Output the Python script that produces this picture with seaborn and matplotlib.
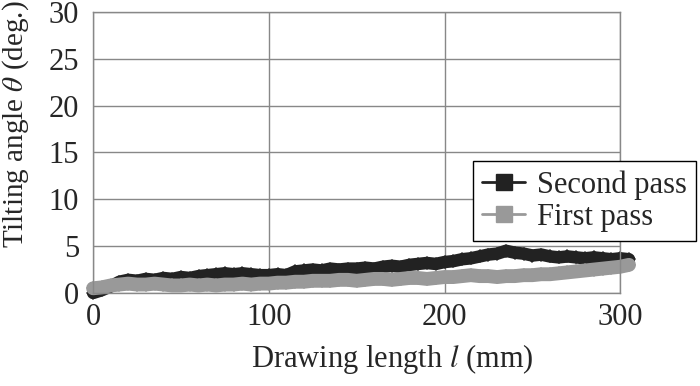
import numpy as np
import pandas as pd
import matplotlib
matplotlib.use('Agg')
import matplotlib.pyplot as plt
import seaborn as sns
from matplotlib.lines import Line2D

# drawing length (mm), read every 5 mm off the picture
length_mm = list(range(0, 310, 5))

second_pass = [0.0, 0.3, 0.7, 1.2, 1.4, 1.3, 1.5, 1.4, 1.6, 1.5,
               1.7, 1.6, 1.8, 1.9, 2.0, 2.1, 2.0, 2.1, 2.0, 1.9,
               1.9, 2.0, 1.9, 2.3, 2.4, 2.5, 2.4, 2.6, 2.5, 2.6,
               2.6, 2.7, 2.6, 2.8, 2.9, 2.8, 3.0, 3.1, 3.2, 3.1,
               3.3, 3.4, 3.6, 3.7, 3.9, 4.1, 4.2, 4.5, 4.3, 4.2,
               4.0, 4.1, 3.9, 3.8, 3.9, 3.8, 3.7, 3.8, 3.7, 3.6,
               3.7, 3.6]

first_pass = [0.5, 0.6, 0.8, 0.9, 1.0, 0.9, 0.9, 1.0, 0.9, 0.8,
              0.8, 0.9, 0.8, 0.9, 0.8, 0.9, 0.9, 1.0, 0.9, 1.0,
              1.0, 1.1, 1.1, 1.2, 1.2, 1.3, 1.3, 1.3, 1.4, 1.4,
              1.3, 1.4, 1.5, 1.5, 1.4, 1.5, 1.6, 1.6, 1.5, 1.6,
              1.7, 1.7, 1.8, 1.9, 1.8, 1.8, 1.7, 1.8, 1.8, 1.9,
              1.9, 2.0, 2.0, 2.1, 2.2, 2.3, 2.4, 2.5, 2.6, 2.7,
              2.8, 3.0]

series_names = ["Second pass", "First pass"]
series_colors = ["#222222", "#999999"]

df = pd.DataFrame({
    "length": length_mm * 2,
    "angle": second_pass + first_pass,
    "pass": [series_names[0]] * len(length_mm) + [series_names[1]] * len(length_mm),
})

sns.set_style("white")
plt.rcParams['font.family'] = ['Liberation Serif', 'DejaVu Serif']
plt.rcParams['mathtext.fontset'] = 'stix'

fig = plt.figure(figsize=(7, 3.86), dpi=100)
ax = fig.add_axes([0.133, 0.241, 0.753, 0.728])

for name, color, lw in zip(series_names, series_colors, [9, 10]):
    sub = df[df["pass"] == name]
    sns.lineplot(data=sub, x="length", y="angle", ax=ax, color=color,
                 linewidth=lw, marker="D", markersize=7, markeredgewidth=0,
                 legend=False, clip_on=False)

ax.set_xlim(0, 300)
ax.set_ylim(0, 30)
ax.set_xticks([0, 100, 200, 300])
ax.set_yticks(range(0, 31, 5))
ax.grid(True, color="#888888", linewidth=1)
ax.set_axisbelow(True)
for s in ax.spines.values():
    s.set_color("#888888")
    s.set_linewidth(1)
ax.tick_params(length=0, labelsize=22)
ax.tick_params(axis="y", pad=10)
ax.tick_params(axis="x", pad=7)

ax.set_xlabel(r"Drawing length $\it{l}$ (mm)", fontsize=22)
ax.xaxis.set_label_coords(0.567, -0.175)
ax.set_ylabel(r"Tilting angle $\theta$ (deg.)", fontsize=21)
ax.yaxis.set_label_coords(-0.118, 0.6)

handles = [Line2D([], [], color=c, linewidth=2, marker="s", markersize=11)
           for c in series_colors]
leg = fig.legend(handles, series_names, loc="upper left",
                 bbox_to_anchor=(0.676, 0.583), fontsize=22, frameon=True,
                 fancybox=False, framealpha=1, edgecolor="black",
                 handlelength=1.4, borderpad=0.3, labelspacing=0.1,
                 handletextpad=0.4, borderaxespad=0)
leg.get_frame().set_linewidth(1)

fig.savefig("out.png", dpi=100)
